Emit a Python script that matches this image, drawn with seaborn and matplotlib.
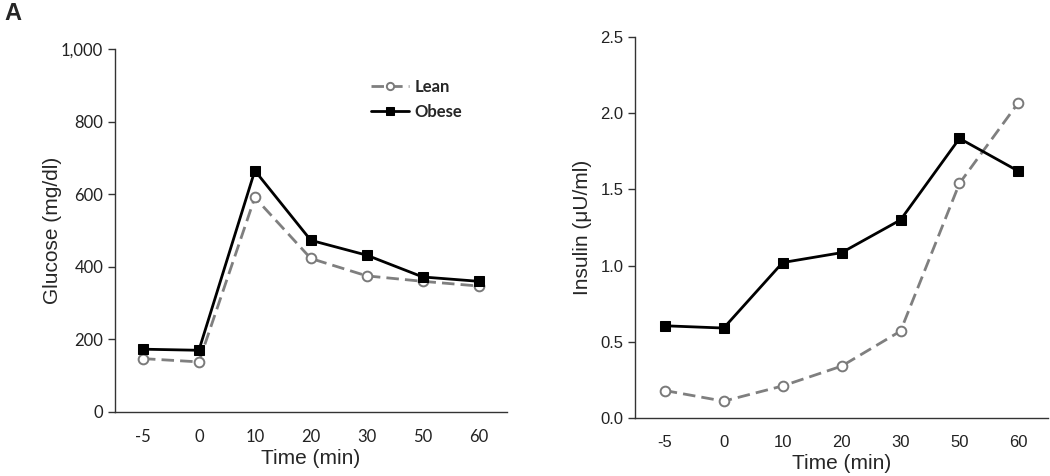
import numpy as np
import pandas as pd
import matplotlib
matplotlib.use("Agg")
import matplotlib.pyplot as plt
import seaborn as sns

time_labels = ["-5", "0", "10", "20", "30", "50", "60"]
glucose_lean = [147, 138, 591, 423, 375, 360, 347]
glucose_obese = [173, 170, 665, 473, 432, 372, 360]
insulin_lean = [0.18, 0.11, 0.21, 0.34, 0.57, 1.54, 2.07]
insulin_obese = [0.605, 0.59, 1.02, 1.085, 1.30, 1.835, 1.62]

sns.set_style("white")
plt.rcParams['font.family'] = ['Liberation Sans', 'DejaVu Sans']

glu = pd.DataFrame({"Time": time_labels, "Lean": glucose_lean, "Obese": glucose_obese})
ins = pd.DataFrame({"Time": time_labels, "Lean": insulin_lean, "Obese": insulin_obese})

fig = plt.figure(figsize=(10.5, 4.76), dpi=100)
ax1 = fig.add_axes([0.1095, 0.1345, 0.373, 0.7625])
ax2 = fig.add_axes([0.605, 0.122, 0.393, 0.80])

lean_kw = dict(color="#7f7f7f", linestyle=(0, (4.5, 2.2)), linewidth=2.0, marker="o",
               markersize=7, markerfacecolor="white", markeredgecolor="#7a7a7a",
               markeredgewidth=1.4)
obese_kw = dict(color="black", linewidth=2.0, marker="s", markersize=7,
                markerfacecolor="black", markeredgecolor="black")

for ax, df in [(ax1, glu), (ax2, ins)]:
    sns.lineplot(data=df, x="Time", y="Lean", ax=ax, label="Lean", sort=False, **lean_kw)
    sns.lineplot(data=df, x="Time", y="Obese", ax=ax, label="Obese", sort=False, **obese_kw)
    ax.set_xlim(-0.5, 6.5)
    ax.set_xticks(range(len(time_labels)))
    ax.set_xticklabels(time_labels)
    ax.set_xticks(np.arange(-0.5, 7, 1), minor=True)
    ax.tick_params(axis="x", which="major", length=0, pad=12)
    ax.tick_params(axis="x", which="minor", length=5, width=1, color="#333333", direction="out")
    ax.tick_params(axis="y", length=5, width=1, color="#333333", direction="out", left=True)
    for s in ["top", "right"]:
        ax.spines[s].set_visible(False)
    for s in ["left", "bottom"]:
        ax.spines[s].set_color("#333333")
        ax.spines[s].set_linewidth(1.0)
    ax.set_xlabel("Time (min)", fontsize=15, labelpad=3)

ax1.set_ylim(0, 1000)
ax1.set_yticks([0, 200, 400, 600, 800, 1000])
ax1.set_yticklabels(["0", "200", "400", "600", "800", "1,000"])
ax1.set_ylabel("Glucose (mg/dl)", fontsize=15)
ax1.yaxis.set_label_coords(-0.135, 0.5)
for lab in ax1.get_xticklabels() + ax1.get_yticklabels():
    lab.set_fontfamily(["Lato", "DejaVu Sans"])
    lab.set_fontsize(12)
    lab.set_color("#222222")
leg = ax1.legend(loc="upper left", bbox_to_anchor=(0.615, 0.96), frameon=False,
                 handlelength=2.3, handletextpad=0.3, labelspacing=0.55,
                 prop={"family": ["Lato", "DejaVu Sans"], "weight": "bold", "size": 12},
                 markerscale=0.75)

ax2.set_ylim(0, 2.5)
ax2.set_yticks([0, 0.5, 1.0, 1.5, 2.0, 2.5])
ax2.set_yticklabels(["0.0", "0.5", "1.0", "1.5", "2.0", "2.5"])
ax2.set_ylabel("Insulin (μU/ml)", fontsize=15)
ax2.yaxis.set_label_coords(-0.104, 0.5)
ax2.get_legend().remove()
for lab in ax2.get_xticklabels() + ax2.get_yticklabels():
    lab.set_fontsize(12)
    lab.set_color("#222222")

fig.text(0.004, 0.995, "A", fontsize=17, fontweight="bold", va="top", ha="left")

fig.savefig("out.png", dpi=100)
